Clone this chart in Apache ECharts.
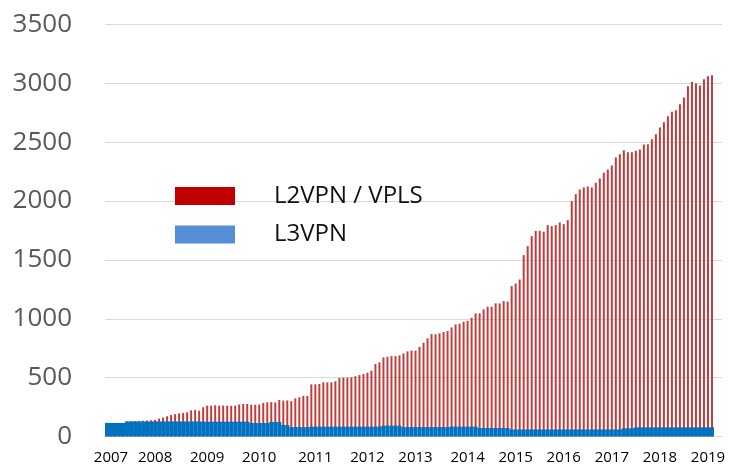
<!DOCTYPE html>
<html>
<head>
<meta charset="utf-8">
<script src="https://cdn.jsdelivr.net/npm/echarts@6/dist/echarts.min.js"></script>
<style>
html,body{margin:0;padding:0;background:#fff;}
#chart{width:731px;height:469px;}
</style>
</head>
<body>
<div id="chart"></div>
<script>
// Monthly periods (152 with data + 2 empty slots at the right end of the axis)
const periodCount = 154;
// Year tick labels and the period index each one sits on
const tickIndex = [1, 12, 25, 38, 52, 65, 77, 90, 102, 114, 126, 138, 150];
const tickText = ['2007','2008','2009','2010','2011','2012','2013','2014','2015','2016','2017','2018','2019'];

const l2vpn = [
  115,115,115,115,115,126,128,130,132,134,
  136,138,140,152,160,172,182,190,197,200,
  205,222,225,219,248,262,262,265,262,263,
  262,260,262,272,276,276,270,270,272,285,
  290,292,290,310,305,306,300,324,333,344,
  344,443,443,447,460,460,460,469,497,500,
  500,503,512,522,530,542,559,615,630,672,
  677,683,683,689,706,723,729,729,762,796,
  834,870,868,876,887,896,927,952,958,975,
  983,1009,1046,1046,1080,1102,1102,1131,1131,1150,
  1145,1278,1300,1334,1541,1617,1702,1747,1747,1739,
  1796,1787,1796,1818,1804,1838,1999,2059,2099,2116,
  2124,2116,2155,2192,2240,2268,2302,2370,2398,2432,
  2415,2415,2427,2438,2481,2483,2526,2568,2625,2670,
  2721,2758,2772,2823,2880,2976,3012,2998,2981,3035,
  3061,3069
];

const l3vpn = [
  115,115,115,115,115,128,128,128,128,128,
  128,128,128,128,128,128,128,128,128,128,
  128,128,128,128,126,126,126,126,126,126,
  126,126,126,126,126,126,115,115,115,115,
  115,123,123,123,98,98,80,80,80,80,
  80,84,84,84,84,84,84,84,84,84,
  84,84,84,84,84,84,84,84,84,92,
  92,92,92,92,80,80,80,80,80,80,
  80,80,80,80,80,80,84,84,84,84,
  84,84,84,72,72,72,72,72,72,72,
  72,60,60,60,60,60,60,60,60,60,
  60,60,60,60,60,60,60,60,60,60,
  60,60,60,60,60,60,60,60,60,70,
  70,70,78,78,78,78,78,78,78,78,
  78,78,78,78,78,78,78,78,78,78,
  78,78
];

const yTicks = { min: 0, max: 3500, interval: 500 };

const categories = [];
for (let i = 0; i < periodCount; i++) categories.push('p' + i);
const tickMap = {};
tickIndex.forEach((idx, k) => { tickMap[idx] = tickText[k]; });

const chart = echarts.init(document.getElementById('chart'), null, { renderer: 'canvas' });
chart.setOption({
  animation: false,
  backgroundColor: '#ffffff',
  grid: { left: 105, right: 9, top: 24.5, bottom: 32.5, containLabel: false },
  legend: {
    orient: 'vertical',
    left: 170,
    top: 179,
    icon: 'rect',
    itemWidth: 60,
    itemHeight: 18,
    itemGap: 14.5,
    textStyle: {
      fontFamily: 'Open Sans',
      fontSize: 24,
      color: '#111111',
      padding: [0, 0, 0, 34],
      lineHeight: 18
    },
    data: [
      { name: 'L2VPN / VPLS', itemStyle: { color: '#c00000' } },
      { name: 'L3VPN', itemStyle: { color: '#558ed5' } }
    ]
  },
  xAxis: [
    {
      type: 'category',
      data: categories,
      axisLine: { show: true, lineStyle: { color: '#d9d9d9', width: 1 } },
      axisTick: { show: false },
      axisLabel: {
        interval: (idx) => tickMap[idx] !== undefined,
        formatter: (v, idx) => tickMap[idx] || '',
        fontFamily: 'Open Sans',
        fontSize: 15,
        color: '#000000',
        margin: 14
      },
      splitLine: { show: false }
    },
    {
      type: 'category',
      data: categories,
      show: false
    }
  ],
  yAxis: {
    type: 'value',
    min: yTicks.min,
    max: yTicks.max,
    interval: yTicks.interval,
    axisLine: { show: false },
    axisTick: { show: false },
    axisLabel: {
      formatter: (v) => String(v),
      fontFamily: 'Open Sans',
      fontSize: 26,
      color: '#595959',
      margin: 33
    },
    splitLine: { show: true, lineStyle: { color: '#d9d9d9', width: 1 } }
  },
  series: [
    {
      name: 'L2VPN / VPLS',
      type: 'bar',
      xAxisIndex: 0,
      data: l2vpn,
      barWidth: 2,
      itemStyle: { color: '#c33c3c' }
    },
    {
      name: 'L3VPN',
      type: 'bar',
      xAxisIndex: 1,
      data: l3vpn,
      barWidth: '100%',
      itemStyle: { color: '#0070c0' }
    }
  ]
});
</script>
</body>
</html>
